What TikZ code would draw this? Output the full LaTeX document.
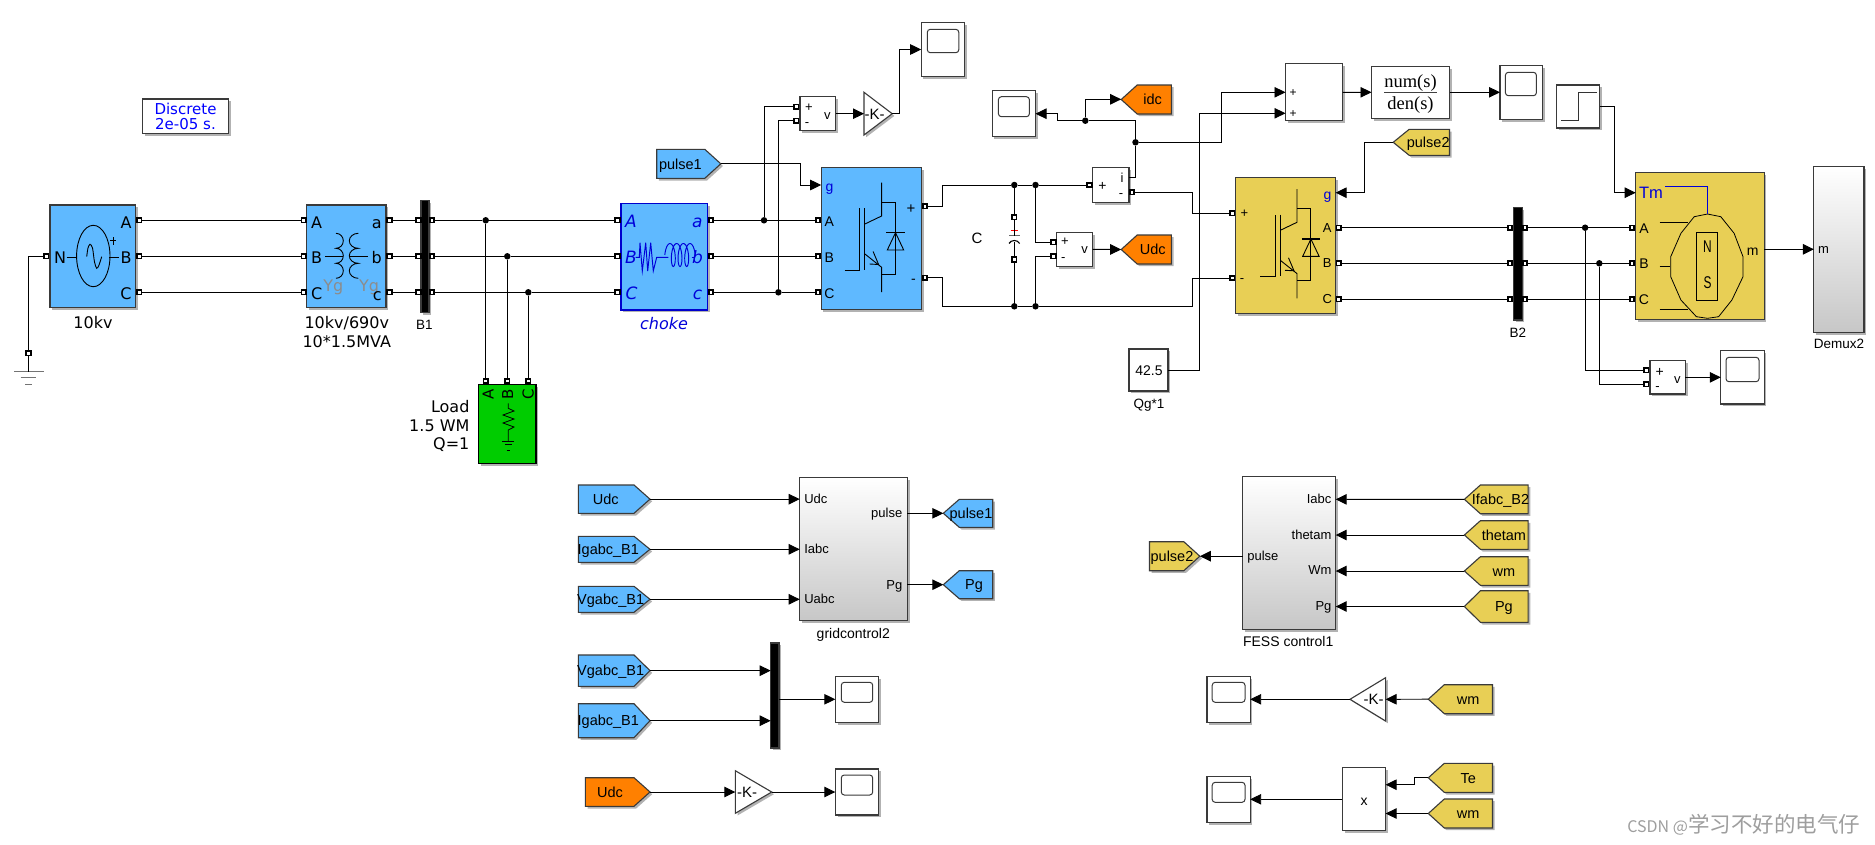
\documentclass[tikz,border=0pt]{standalone}
\usepackage{fontspec}
\setmainfont{Liberation Sans}
\newfontfamily\dv{DejaVu Sans}
\newfontfamily\lser{Liberation Serif}
\newfontfamily\cjkf{Noto Sans CJK SC}
\usetikzlibrary{arrows.meta,shadows,calc}
\definecolor{bblue}{HTML}{5FB9FF}
\definecolor{byel}{HTML}{E8CF55}
\definecolor{bora}{HTML}{FF8000}
\definecolor{bgrn}{HTML}{00CC00}
\definecolor{edge}{HTML}{3A3A3A}
\newcounter{lblc}
\newcommand{\fz}[1]{\fontsize{#1}{#1}\selectfont}
\tikzset{
  shd/.style={drop shadow={shadow xshift=2.2pt,shadow yshift=-2.2pt,opacity=.3,fill=black}},
  block/.style={rectangle,draw=edge,line width=1.1pt,inner sep=0pt,outer sep=0pt,fill=white,shd},
  bluefill/.style={fill=bblue},
  yelfill/.style={fill=byel},
  grad/.style={top color=white,middle color=white,bottom color=black!22},
  prt/.style={rectangle,draw=black,line width=1.9pt,fill=white,inner sep=0pt,outer sep=0pt,minimum size=4.4pt},
  jdot/.style={circle,fill=black,inner sep=0pt,outer sep=0pt,minimum size=6.5pt},
  wire/.style={draw=black,line width=.95pt},
  sig/.style={wire,-{Triangle[length=11pt,width=10.5pt]}},
  txt/.style={inner sep=0pt,outer sep=0pt,text=black},
  sym/.style={draw=black,line width=.9pt},
  tiny/.style={draw=black,line width=.8pt},
}
% name x1 y1 x2 y2 style
\newcommand{\blk}[6]{\pgfmathsetmacro\bcx{(#2+#4)/2}\pgfmathsetmacro\bcy{(#3+#5)/2}\pgfmathsetmacro\bww{#4-#2}\pgfmathsetmacro\bhh{#5-#3}%
  \node[block,#6,minimum width=\bww pt,minimum height=\bhh pt] (#1) at (\bcx,\bcy) {};}
\newcommand{\prtn}[3]{\node[prt] (#1) at (#2,#3) {};}
\newcommand{\jd}[3]{\node[jdot] (#1) at (#2,#3) {};}
\newcommand{\lbl}[5][]{\stepcounter{lblc}\node[txt,#1] (L\thelblc) at (#2,#3) {\fz{#4}\rule{0pt}{.72em}\smash{#5}};}
% right pointing tag: name x1 y1 x2 y2 colour textx text
\newcommand{\gtoR}[8]{\pgfmathsetmacro\gm{(#3+#5)/2}\pgfmathsetmacro\gn{#4-16}%
  \draw[draw=edge,line width=1.1pt,fill=#6,shd] (#2,#3) -- (\gn,#3) -- (#4,\gm) -- (\gn,#5) -- (#2,#5) -- cycle;
  \coordinate (#1) at (#4,\gm);
  \lbl{#7}{\gm}{14.5}{#8}}
\newcommand{\gtoL}[8]{\pgfmathsetmacro\gm{(#3+#5)/2}\pgfmathsetmacro\gn{#2+16}%
  \draw[draw=edge,line width=1.1pt,fill=#6,shd] (#4,#3) -- (\gn,#3) -- (#2,\gm) -- (\gn,#5) -- (#4,#5) -- cycle;
  \coordinate (#1) at (#2,\gm);
  \lbl{#7}{\gm}{14.5}{#8}}
% scope: name x1 y1 x2 y2 screen sx1 sy1 sx2 sy2
\newcommand{\scp}[9]{\blk{#1}{#2}{#3}{#4}{#5}{}\draw[line width=1pt,draw=edge,rounded corners=3pt] (#6,#7) rectangle (#8,#9);}
\newcommand{\igbt}[2]{\begin{scope}[shift={(#1,#2)}]
  \draw[sym] (-37,32.5) -- (-22,32.5) -- (-22,-29.2);
  \draw[sym] (-16.7,-29.2) -- (-16.7,32.5);
  \draw[sym] (0,-54.8) -- (0,-21.5) -- (-16.7,-13.5);
  \draw[sym] (-16.7,16.5) -- (0,29.8) -- (0,54.5);
  \draw[sym] (-8.5,14) -- (-3,27) -- (-12,26.5);
  \draw[sym] (0,-35.2) -- (13.9,-35.2) -- (13.9,36.8) -- (0,36.8);
  \draw[sym] (13.9,-4.8) -- (5.7,12.5) -- (22.1,12.5) -- cycle;
  \draw[sym,line width=1.2pt] (4.8,-4.8) -- (23,-4.8);
\end{scope}}
\begin{document}
\begin{tikzpicture}[x=1pt,y=-1pt]
\useasboundingbox (0,0) rectangle (1875,844);
\fill[white] (0,0) rectangle (1875,844);

% ---------- blocks of the upper row
\blk{powergui}{142.4}{99}{228.6}{133.3}{}
\lbl{185.5}{109}{15}{\dv\color{blue}Discrete}
\lbl{185.5}{124}{15}{\dv\color{blue}2e-05 s.}

\blk{src}{50}{205}{135.7}{307.7}{bluefill}
\blk{xf}{306.7}{205}{386}{307.7}{bluefill}
\blk{bus1}{421}{200.3}{429}{312.7}{fill=black}
\blk{choke}{621}{203.3}{707.7}{310}{bluefill,draw={rgb,255:red,0;green,0;blue,205}}
\blk{cv}{821.2}{167.7}{921.6}{309.3}{bluefill}
\blk{load}{478.3}{384.3}{536}{463.3}{fill=bgrn,draw=black}
\blk{v1}{800}{96.7}{835.5}{130.7}{}
\blk{iblk}{1092.7}{167.7}{1129}{202.3}{}
\blk{vu}{1056.7}{232.3}{1092.7}{266.3}{}
\blk{yc}{1235.4}{177.7}{1335.6}{313.3}{yelfill}
\blk{bus2}{1513.3}{207.3}{1522.2}{320}{fill=black}
\blk{mach}{1635.7}{172.3}{1764.2}{319.3}{yelfill}
\blk{dmx}{1813.9}{166.7}{1864}{332.3}{grad}
\blk{v3}{1650}{360.7}{1685.3}{394}{}
\blk{sum}{1285.5}{63.9}{1342.7}{120.7}{}
\blk{nd}{1371.5}{66.3}{1449.5}{118.3}{}
\blk{stp}{1556.8}{85}{1599.8}{128}{}
\blk{qg}{1129}{349}{1168}{391}{}

\scp{s1}{921.2}{22.3}{964.5}{76.7}{927.3}{29.3}{958.8}{52.7}
\scp{s2}{992.2}{90.7}{1035.5}{136.7}{998.4}{96.7}{1029.4}{116.7}
\scp{s3}{1500}{65.3}{1542.6}{119.3}{1505.4}{72.3}{1536.4}{95.7}
\scp{s4}{1720.8}{350.7}{1764.2}{404}{1726}{357.3}{1759}{381.7}

% gain 1
\draw[draw=edge,line width=1.1pt,fill=white,shd] (864,92.3) -- (892.2,113.7) -- (864,135) -- cycle;
\coordinate (g1in) at (864,113.7);
\coordinate (g1out) at (892.2,113.7);
\lbl{874.5}{113.7}{15}{-K-}

% tags of the upper row
\gtoR{p1tag}{656.7}{149.3}{720.8}{178.3}{bblue}{680.4}{pulse1}
\gtoL{idc}{1121.2}{85}{1171.4}{114}{bora}{1152.7}{idc}
\gtoL{udcg}{1121.2}{235}{1171.4}{264}{bora}{1152.7}{Udc}
\gtoL{p2tag}{1393.2}{129.3}{1449.5}{155.3}{byel}{1428.2}{pulse2}

% ---------- source internals
\draw[sym] (93.3,256) ellipse (16.7 and 30.7);
\draw[sym] (66.7,257.3) -- (76.7,257.3);
\draw[sym] (109.3,257.3) -- (119,257.3);
\draw[sym] (110.3,240.7) -- (116.3,240.7) (113.3,237) -- (113.3,245);
\draw[sym] plot[smooth] coordinates {(86.7,256.7) (88,248) (90,244.3) (92.5,248) (94.5,262) (96.7,268.3) (99,265) (101.7,256.7)};
\lbl{60}{257.3}{16}{\dv N}
\lbl{126}{222.3}{16}{\dv A}
\lbl{126}{257.3}{16}{\dv B}
\lbl{126}{293.3}{16}{\dv C}
\lbl{93}{322.7}{16}{\dv 10kv}
% ---------- transformer internals
\draw[sym] (336,233.3) arc (-90:90:7.3 and 7.5) arc (-90:90:7.3 and 7.5) arc (-90:90:7.3 and 7.5);
\draw[sym] (358.3,233.3) arc (270:90:9 and 7.5) arc (270:90:9 and 7.5) arc (270:90:9 and 7.5);
\draw[sym] (325,256.7) -- (343,256.7);
\draw[sym] (350,256.7) -- (368,256.7);
\lbl{333.3}{286}{16}{\dv\color{black!45}Yg}
\lbl{369}{286}{16}{\dv\color{black!45}Yg}
\lbl{316.7}{222.3}{16}{\dv A}
\lbl{316.7}{257.3}{16}{\dv B}
\lbl{316.7}{293.3}{16}{\dv C}
\lbl{376.7}{222.3}{16}{\dv a}
\lbl{376.7}{257.3}{16}{\dv b}
\lbl{377.3}{294.3}{16}{\dv c}
\lbl{346.8}{322.7}{16}{\dv 10kv/690v}
\lbl{346.8}{341.7}{16}{\dv 10*1.5MVA}
\lbl{424.3}{324.3}{13.5}{B1}
% ---------- ground
\prtn{gnd}{28.5}{353.3}
\coordinate (gndb) at (28.5,371.7);
\draw[line width=1pt,draw=black!55] (14,371.7) -- (43.5,371.7);
\draw[line width=1pt,draw=black!55] (20.6,377.7) -- (36.4,377.7);
\draw[line width=1pt,draw=black!55] (25,384.3) -- (31.6,384.3);
% ---------- load internals
\lbl[rotate=90]{488.3}{394.3}{15}{\dv A}
\lbl[rotate=90]{507.7}{394.3}{15}{\dv B}
\lbl[rotate=90]{528.3}{394.3}{15}{\dv C}
\draw[tiny] (508.3,403.3) -- (508.3,408.3) -- (514,411) -- (503,415) -- (514,419) -- (503,423) -- (514,427) -- (508.3,430) -- (508.3,441);
\draw[tiny] (502.3,441) -- (514,441);
\draw[tiny] (505,444.3) -- (511.7,444.3);
\draw[tiny] (506.7,450) -- (510,450);
\lbl[anchor=east]{469.4}{406.7}{16}{\dv Load}
\lbl[anchor=east]{469.4}{425.7}{16}{\dv 1.5 WM}
\lbl[anchor=east]{469.4}{444}{16}{\dv Q=1}
% ---------- choke internals
\draw[line width=.95pt,draw=blue!85!black] (635.7,257.3) -- (639.3,257.3) -- (640,242.7) -- (642.3,271) -- (645.7,242.7) -- (647.7,271) -- (650.7,242.7) -- (653.3,271) -- (656.7,257.3) -- (668.3,257.3);
\draw[line width=.95pt,draw=blue!85!black] plot[smooth,domain=90:1350,samples=85] ({668.3+0.01857*(\x-90)-3.5*sin(\x)},{255+11.5*cos(\x)});
\draw[line width=.95pt,draw=blue!85!black] (691.7,257.3) -- (695,257.3);
\lbl{631}{221.7}{17}{\dv\itshape\color{blue!85!black}A}
\lbl{631}{257.3}{17}{\dv\itshape\color{blue!85!black}B}
\lbl{631.5}{293}{17}{\dv\itshape\color{blue!85!black}C}
\lbl{697.3}{221.7}{17}{\dv\itshape\color{blue!85!black}a}
\lbl{697.5}{257.3}{17}{\dv\itshape\color{blue!85!black}b}
\lbl{697.5}{293}{17}{\dv\itshape\color{blue!85!black}c}
\lbl{664}{324}{16}{\dv\itshape\color{blue!85!black}choke}
% ---------- converters
\igbt{881.6}{237.5}
\igbt{1297}{243.8}
\lbl{829.4}{186}{14}{\color{blue!85!black}g}
\lbl{829.4}{221.3}{14}{A}
\lbl{829.4}{257.5}{14}{B}
\lbl{829.4}{293}{14}{C}
\lbl{911}{208}{15}{+}
\lbl{913.5}{278.3}{14}{-}
\lbl{1327.6}{194}{14}{\color{blue!85!black}g}
\lbl{1327.2}{228}{13}{A}
\lbl{1327.2}{263.3}{13}{B}
\lbl{1327.2}{299.3}{13}{C}
\lbl{1244.3}{213.3}{13}{+}
\lbl{1242}{278}{13}{-}
% ---------- measurement labels
\lbl{809}{107.3}{13}{+}
\lbl{807}{121.7}{13}{-}
\lbl{827.3}{114.7}{13}{v}
\lbl{1102.4}{185.7}{14}{+}
\lbl{1122}{178.3}{13}{i}
\lbl{1121}{192.7}{13}{-}
\lbl{1064.9}{241.3}{13}{+}
\lbl{1063.3}{257}{13}{-}
\lbl{1084.5}{249}{13}{v}
\lbl{1659.6}{371.7}{14}{+}
\lbl{1657.4}{385.7}{13}{-}
\lbl{1677.3}{379}{13}{v}
\lbl{977}{238}{15}{C}
% ---------- capacitor
\prtn{capt}{1014.3}{217.3}
\prtn{capb}{1014.3}{259.5}
\coordinate (capu) at (1014.3,235.7);
\coordinate (capl) at (1014.3,241.5);
\draw[line width=1.3pt,draw=black!60] (1009,235.7) -- (1019.6,235.7);
\draw[line width=.9pt,draw=red] (1010.5,230) -- (1018,230) (1014.3,226.5) -- (1014.3,233.5);
\draw[line width=1.1pt,draw=black] (1009,243.5) .. controls (1011,239.5) and (1017.6,239.5) .. (1019.6,243.5);
% ---------- sum, transfer function, step
\lbl{1293}{92.3}{12}{+}
\lbl{1293}{113.3}{12}{+}
\lbl{1410.5}{81}{18.5}{\lser num(s)}
\lbl{1410.5}{103.3}{18.5}{\lser den(s)}
\draw[line width=1.1pt,draw=black!75] (1384,92.3) -- (1437,92.3);
\draw[line width=1pt,draw=black!80] (1561,120.3) -- (1578.5,120.3) -- (1578.5,92.3) -- (1596.7,92.3);
\lbl{1149}{370}{14}{42.5}
\lbl{1149}{404}{13.5}{Qg*1}
\lbl{1517.8}{332.3}{13.5}{B2}
\lbl{1839}{344}{13.5}{Demux2}
\lbl{1823.6}{249.3}{13}{m}
% ---------- machine internals
\draw[line width=.8pt,draw=black] (1694.2,216.7) -- (1707.5,214) -- (1720.8,216.7) -- (1734.1,233.3) -- (1743,256.7) -- (1743,276.7) -- (1731.9,300) -- (1718.6,316.7) -- (1707.5,318.3) -- (1696.4,316.7) -- (1680.9,300) -- (1670.7,276.7) -- (1670.7,256.7) -- (1680.9,233.3) -- cycle;
\draw[line width=.8pt,draw=black] (1696.8,232.3) rectangle (1717.7,300);
\draw[line width=.8pt,draw=black] (1659.6,222.7) -- (1687.5,222.7);
\draw[line width=.8pt,draw=black] (1659.6,266.7) -- (1670.2,266.7);
\draw[line width=.8pt,draw=black] (1659.6,309.3) -- (1687.5,309.3);
\draw[line width=1.1pt,draw=blue!85!black] (1665.4,186.7) -- (1707.5,186.7) -- (1707.5,214.3);
\lbl{1651}{192.7}{16.5}{\color{blue!85!black}Tm}
\lbl[xscale=.7]{1707.5}{246.7}{17}{N}
\lbl[xscale=.7]{1707.5}{282.7}{17}{S}
\lbl{1644}{228.3}{14}{A}
\lbl{1644}{263.3}{14}{B}
\lbl{1644}{299.3}{14}{C}
\lbl{1752.7}{250}{14}{m}

% ---------- ports
\foreach \n/\yy in {A/220.3,B/256.3,C/292.3}{
  \prtn{src\n}{139.3}{\yy}
  \prtn{xf\n}{303.7}{\yy}
  \prtn{xr\n}{389.5}{\yy}
  \prtn{bl\n}{418.4}{\yy}
  \prtn{br\n}{431.8}{\yy}
  \prtn{chl\n}{617.6}{\yy}
  \prtn{chr\n}{710.8}{\yy}
  \prtn{cvl\n}{818}{\yy}
}
\foreach \n/\yy in {A/227.7,B/263.3,C/299.3}{
  \prtn{yr\n}{1338.7}{\yy}
  \prtn{b2l\n}{1510.2}{\yy}
  \prtn{b2r\n}{1524.9}{\yy}
  \prtn{ml\n}{1632.1}{\yy}
}
\prtn{srcN}{46.3}{256.3}
\prtn{loadA}{485.7}{381}
\prtn{loadB}{507.3}{381}
\prtn{loadC}{528.3}{381}
\prtn{v1p}{796.3}{106.7}
\prtn{v1m}{796.3}{120.7}
\prtn{cvP}{924.9}{206.3}
\prtn{cvM}{924.9}{277.7}
\prtn{iP}{1089.4}{185}
\prtn{iM}{1131.8}{192.3}
\prtn{vuP}{1053.5}{242.3}
\prtn{vuM}{1053.5}{256.3}
\prtn{yP}{1232.3}{213.3}
\prtn{yM}{1232.3}{278}
\prtn{v3P}{1646.3}{370.3}
\prtn{v3M}{1646.3}{384.3}

% ---------- junctions
\jd{jA}{485.7}{220.3}
\jd{jB}{507.3}{256.3}
\jd{jC}{528.3}{292.3}
\jd{jv1}{764}{220.3}
\jd{jv2}{778.4}{292.3}
\jd{jc1}{1014.3}{185}
\jd{jc2}{1035.5}{185}
\jd{jc3}{1014.3}{306.3}
\jd{jc4}{1035.5}{306.3}
\jd{j5}{1135.5}{142.3}
\jd{j6}{1085.3}{120.7}
\jd{jm1}{1585.1}{227.7}
\jd{jm2}{1599.3}{263.3}

% ---------- bend points and signal ends
\coordinate (g1c) at (899.6,49.5);
\coordinate (p1c) at (800,185);
\coordinate (cvg) at (821.2,185);
\coordinate (c1) at (942.4,206.3);
\coordinate (c2) at (942.4,185);
\coordinate (c3) at (942.4,277.7);
\coordinate (c4) at (942.4,306.3);
\coordinate (c5) at (1192.7,306.3);
\coordinate (c6) at (1192.7,278);
\coordinate (c7) at (1192.7,192.3);
\coordinate (c8) at (1192.7,213.3);
\coordinate (iout) at (1129,177.3);
\coordinate (i1) at (1135.5,177.3);
\coordinate (i2) at (1135.5,120.7);
\coordinate (i3) at (1057.6,120.7);
\coordinate (i4) at (1057.6,113.7);
\coordinate (idcIn) at (1121.2,99.3);
\coordinate (sumA) at (1285.5,92.3);
\coordinate (sumB) at (1285.5,113.3);
\coordinate (sa) at (1221.2,142.3);
\coordinate (sb) at (1221.2,92.3);
\coordinate (qa) at (1199.6,370);
\coordinate (qb) at (1199.6,113.3);
\coordinate (ygate) at (1335.6,192.7);
\coordinate (pc1) at (1364.4,142.3);
\coordinate (pc2) at (1364.4,192.7);
\coordinate (st1) at (1614.4,106.5);
\coordinate (st2) at (1614.4,192.7);
\coordinate (mTm) at (1635.7,192.7);
\coordinate (mOut) at (1764.2,249.3);
\coordinate (dIn) at (1813.9,249.3);
\coordinate (vu2) at (1092.7,249.3);

% ---------- wires of the upper row
\foreach \n in {A,B,C}{
  \draw[wire] (src\n) -- (xf\n);
  \draw[wire] (xr\n) -- (bl\n);
  \draw[wire] (br\n) -- (j\n) -- (chl\n);
  \draw[wire] (j\n) -- (load\n);
  \draw[wire] (yr\n) -- (b2l\n);
  \draw[wire] (b2r\n) -- (ml\n);
}
\draw[wire] (jm1) -- (b2rA);
\draw[wire] (jm2) -- (b2rB);
\draw[wire] (srcN) -| (gnd);
\draw[wire] (gnd) -- (gndb);
\draw[wire] (chrA) -- (jv1) -- (cvlA);
\draw[wire] (chrB) -- (cvlB);
\draw[wire] (chrC) -- (jv2) -- (cvlC);
\draw[wire] (jv1) |- (v1p);
\draw[wire] (jv2) |- (v1m);
\draw[sig] (v1.east) -- (g1in);
\draw[sig] (g1out) -| (g1c) -- (s1.west);
\draw[sig] (p1tag) -| (p1c) -- (cvg);
\draw[wire] (cvP) -- (c1) -- (c2) -- (jc1) -- (jc2) -- (iP);
\draw[wire] (cvM) -- (c3) -- (c4) -- (jc3) -- (jc4) -- (c5) -- (c6) -- (yM);
\draw[wire] (iM) -- (c7) -- (c8) -- (yP);
\draw[wire] (jc1) -- (capt);
\draw[wire] (capb) -- (jc3);
\draw[wire] (capt) -- (capu);
\draw[wire] (capl) -- (capb);
\draw[wire] (jc2) |- (vuP);
\draw[wire] (jc4) |- (vuM);
\draw[sig] (vu2) -- (udcg);
\draw[wire] (iout) -- (i1) -- (j5) -- (i2) -- (j6);
\draw[sig] (j6) -- (i3) -- (i4) -- (s2.east);
\draw[sig] (j6) |- (idcIn);
\draw[sig] (j5) -- (sa) -- (sb) -- (sumA);
\draw[sig] (qg.east |- qa) -- (qa) -- (qb) -- (sumB);
\draw[sig] (sum.east) -- (nd.west);
\draw[sig] (nd.east) -- (s3.west);
\draw[sig] (p2tag) -- (pc1) -- (pc2) -- (ygate);
\draw[sig] (stp.east |- st1) -- (st1) -- (st2) -- (mTm);
\draw[sig] (mOut) -- (dIn);
\draw[wire] (jm1) |- (v3P);
\draw[wire] (jm2) |- (v3M);
\draw[sig] (v3.east) -- (s4.west);

% ---------- grid control
\blk{gc}{799.7}{477.7}{907.3}{620.7}{grad}
\gtoR{tU}{578.3}{485}{650}{513.3}{bblue}{605.7}{Udc}
\gtoR{tI}{578.3}{536.3}{650}{562.3}{bblue}{608.3}{Igabc\_B1}
\gtoR{tV}{578.3}{586.3}{650}{612.3}{bblue}{610.7}{Vgabc\_B1}
\gtoL{tp1}{943.3}{499.3}{992.7}{527.3}{bblue}{971}{pulse1}
\gtoL{tPg}{943.3}{570.7}{992.7}{598.7}{bblue}{974}{Pg}
\lbl[anchor=west]{804.3}{499.3}{13}{Udc}
\lbl[anchor=west]{804.3}{549.3}{13}{Iabc}
\lbl[anchor=west]{804.3}{599.3}{13}{Uabc}
\lbl[anchor=east]{902.3}{513.3}{13}{pulse}
\lbl[anchor=east]{902.3}{584.7}{13}{Pg}
\lbl{853.3}{633.3}{14}{gridcontrol2}
\coordinate (gcU) at (799.7,499.15);
\coordinate (gcI) at (799.7,549.3);
\coordinate (gcV) at (799.7,599.3);
\coordinate (gcP) at (907.3,513.3);
\coordinate (gcG) at (907.3,584.7);
\draw[sig] (tU) -- (gcU);
\draw[sig] (tI) -- (gcI);
\draw[sig] (tV) -- (gcV);
\draw[sig] (gcP) -- (tp1);
\draw[sig] (gcG) -- (tPg);

% ---------- scope group, lower left
\gtoR{tV2}{578.3}{655}{650}{686.3}{bblue}{610.7}{Vgabc\_B1}
\gtoR{tI2}{578.3}{703.7}{650}{737.7}{bblue}{608.3}{Igabc\_B1}
\blk{mux}{770.7}{643}{779}{748}{fill=black}
\scp{s5}{835.3}{676.3}{878.7}{722.3}{841.3}{682.3}{872.7}{702.3}
\coordinate (mV) at (770.7,670.65);
\coordinate (mI) at (770.7,720.7);
\coordinate (mO) at (779,699.3);
\draw[sig] (tV2) -- (mV);
\draw[sig] (tI2) -- (mI);
\draw[sig] (mO) -- (s5.west);
\gtoR{tU3}{585.3}{777.7}{650}{806.3}{bora}{610}{Udc}
\draw[draw=edge,line width=1.1pt,fill=white,shd] (735.3,770.7) -- (771.7,792) -- (735.3,813.3) -- cycle;
\coordinate (g2in) at (735.3,792);
\coordinate (g2out) at (771.7,792);
\lbl{747}{792}{15}{-K-}
\scp{s6}{835.3}{769}{878.7}{815}{841.3}{775}{872.7}{795}
\draw[sig] (tU3) -- (g2in);
\draw[sig] (g2out) -- (s6.west);

% ---------- FESS control
\blk{fe}{1242.6}{476.3}{1335.7}{629.3}{grad}
\gtoL{tIf}{1464.4}{485}{1528.1}{513.7}{byel}{1500.5}{Ifabc\_B2}
\gtoL{tTh}{1464.4}{520.7}{1528.1}{549.3}{byel}{1503.9}{thetam}
\gtoL{tWm}{1464.4}{556.7}{1528.1}{585.3}{byel}{1503.9}{wm}
\gtoL{tPf}{1464.4}{590.7}{1528.1}{622.3}{byel}{1503.9}{Pg}
\gtoR{tp2}{1149.5}{541.7}{1199.8}{570.7}{byel}{1172}{pulse2}
\lbl[anchor=east]{1331.4}{499.3}{13}{Iabc}
\lbl[anchor=east]{1331.4}{534.7}{13}{thetam}
\lbl[anchor=east]{1331.4}{570.3}{13}{Wm}
\lbl[anchor=east]{1331.4}{606.3}{13}{Pg}
\lbl[anchor=west]{1247.3}{556.3}{13}{pulse}
\lbl{1288.2}{641.3}{14}{FESS control1}
\coordinate (feI) at (1335.7,499.35);
\coordinate (feT) at (1335.7,535);
\coordinate (feW) at (1335.7,571);
\coordinate (feP) at (1335.7,606.5);
\coordinate (feO) at (1242.6,556.2);
\draw[sig] (tIf) -- (feI);
\draw[sig] (tTh) -- (feT);
\draw[sig] (tWm) -- (feW);
\draw[sig] (tPf) -- (feP);
\draw[sig] (feO) -- (tp2);

% ---------- lower right
\scp{s7}{1207}{676.3}{1250.2}{722.3}{1212.2}{682.3}{1245}{702.3}
\draw[draw=edge,line width=1.1pt,fill=white,shd] (1385.6,677.7) -- (1350,699.3) -- (1385.6,721) -- cycle;
\coordinate (g3in) at (1385.6,699.3);
\coordinate (g3out) at (1350,699.3);
\lbl{1373.5}{699.3}{15}{-K-}
\gtoL{tw2}{1428.3}{684.7}{1492.5}{713.7}{byel}{1468.2}{wm}
\draw[sig] (tw2) -- (g3in);
\draw[sig] (g3out) -- (s7.east);
\scp{s8}{1207}{776.3}{1250.2}{822.3}{1212.2}{782.3}{1245}{802.3}
\blk{prod}{1342.4}{767.7}{1385.6}{830.7}{}
\lbl{1364}{800}{14}{x}
\gtoL{tTe}{1428.3}{763.3}{1492.5}{792.3}{byel}{1468.2}{Te}
\gtoL{tw3}{1428.3}{799}{1492.5}{828}{byel}{1468.2}{wm}
\coordinate (pIa) at (1385.6,784.7);
\coordinate (pIb) at (1385.6,813.5);
\coordinate (te1) at (1414.6,777.8);
\coordinate (te2) at (1414.6,784.7);
\coordinate (pO) at (1342.4,799.3);
\draw[sig] (tTe) -- (te1) -- (te2) -- (pIa);
\draw[sig] (tw3) -- (pIb);
\draw[sig] (pO) -- (s8.east);

% ---------- watermark
\lbl[anchor=east]{1860}{825}{21.5}{\cjkf\color{black!38}{\fz{16}CSDN @}学习不好的电气仔}
\end{tikzpicture}
\end{document}
